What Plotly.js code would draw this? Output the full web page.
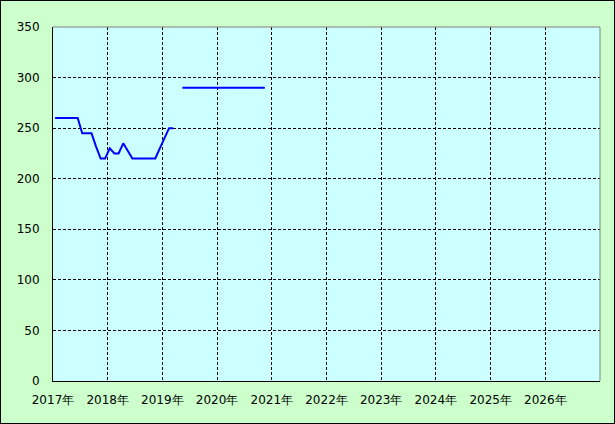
<!DOCTYPE html>
<html><head><meta charset="utf-8">
<script src="https://cdn.plot.ly/plotly-3.0.1.min.js"></script>
<style>
html,body{margin:0;padding:0;background:#ccffcc;}
#wrap{width:613px;height:422px;border:1px solid #000;background:#ccffcc;}
#chart{width:613px;height:422px;}
</style>
</head><body>
<div id="wrap"><div id="chart"></div></div>
<script>
const months = [
 "2017-01-15","2017-02-15","2017-03-15","2017-04-15","2017-05-15","2017-06-15",
 "2017-07-15","2017-08-15","2017-09-15","2017-10-15","2017-11-15","2017-12-15",
 "2018-01-15","2018-02-15","2018-03-15","2018-04-15","2018-05-15","2018-06-15",
 "2018-07-15","2018-08-15","2018-09-15","2018-10-15","2018-11-15","2018-12-15",
 "2019-01-15","2019-02-15","2019-03-15","2019-04-15","2019-05-15","2019-06-15",
 "2019-07-15","2019-08-15","2019-09-15","2019-10-15","2019-11-15","2019-12-15",
 "2020-01-15","2020-02-15","2020-03-15","2020-04-15","2020-05-15","2020-06-15",
 "2020-07-15","2020-08-15","2020-09-15","2020-10-15","2020-11-15"
];
const values = [
 260,260,260,260,260,260,
 245,245,245,232,220,220,
 230,225,225,235,228,220,
 220,220,220,220,220,230,
 240,250,250,null,290,290,
 290,290,290,290,290,290,
 290,290,290,290,290,290,
 290,290,290,290,290
];
const yearTicks = ["2017-01-01","2018-01-01","2019-01-01","2020-01-01","2021-01-01",
 "2022-01-01","2023-01-01","2024-01-01","2025-01-01","2026-01-01"];
const yearLabels = ["2017年","2018年","2019年","2020年","2021年","2022年","2023年","2024年","2025年","2026年"];
const yTicks = [0,50,100,150,200,250,300,350];

const trace = {
  x: months, y: values, type: "scatter", mode: "lines",
  line: {color: "#0000ff", width: 2}, connectgaps: false, hoverinfo: "none"
};
const layout = {
  width: 613, height: 422,
  margin: {l: 52, r: 14, t: 26, b: 42, pad: 0},
  paper_bgcolor: "#ccffcc", plot_bgcolor: "#ccffff",
  font: {family: "DejaVu Sans, Liberation Sans, sans-serif", size: 12, color: "#000"},
  showlegend: false,
  xaxis: {
    type: "date", range: ["2017-01-01","2027-01-01"],
    tickmode: "array", tickvals: yearTicks, ticktext: yearLabels,
    showgrid: true, gridcolor: "#000", griddash: "3px,2px", gridwidth: 1,
    showline: true, linecolor: "#000", linewidth: 1,
    ticks: "", ticklabelstandoff: 8, zeroline: false, fixedrange: true
  },
  yaxis: {
    range: [0, 350], tickmode: "array", tickvals: yTicks,
    showgrid: true, gridcolor: "#000", griddash: "3px,2px", gridwidth: 1,
    showline: true, linecolor: "#000", linewidth: 1,
    ticks: "", ticklabelstandoff: 10, zeroline: false, fixedrange: true
  },
  shapes: [
    {type: "line", xref: "paper", yref: "paper", x0: 0, x1: 1, y0: 1, y1: 1, line: {color: "#808080", width: 1}},
    {type: "line", xref: "paper", yref: "paper", x0: 1, x1: 1, y0: 0, y1: 1, line: {color: "#808080", width: 1}}
  ]
};
Plotly.newPlot("chart", [trace], layout, {staticPlot: true, displayModeBar: false});
</script>
</body></html>
